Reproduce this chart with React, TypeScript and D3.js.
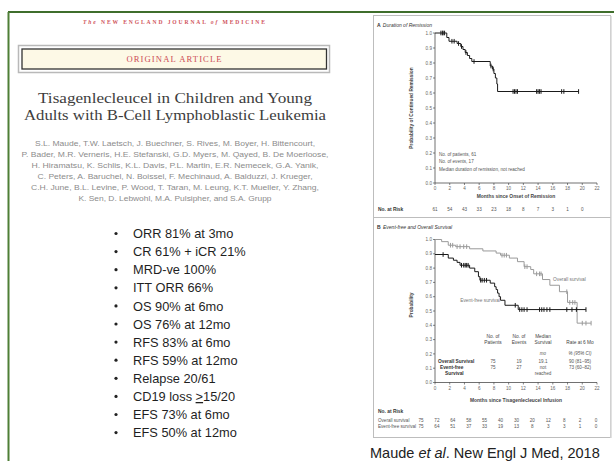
import React from "react";
import * as d3 from "d3";

// ---------- data ----------
const bullets = [
  "ORR 81% at 3mo",
  "CR 61% + iCR 21%",
  "MRD-ve 100%",
  "ITT ORR 66%",
  "OS 90% at 6mo",
  "OS 76% at 12mo",
  "RFS 83% at 6mo",
  "RFS 59% at 12mo",
  "Relapse 20/61",
  "CD19 loss \u226515/20",
  "EFS 73% at 6mo",
  "EFS 50% at 12mo",
];
const authors = [
  "S.L. Maude, T.W. Laetsch, J. Buechner, S. Rives, M. Boyer, H. Bittencourt,",
  "P. Bader, M.R. Verneris, H.E. Stefanski, G.D. Myers, M. Qayed, B. De Moerloose,",
  "H. Hiramatsu, K. Schlis, K.L. Davis, P.L. Martin, E.R. Nemecek, G.A. Yanik,",
  "C. Peters, A. Baruchel, N. Boissel, F. Mechinaud, A. Balduzzi, J. Krueger,",
  "C.H. June, B.L. Levine, P. Wood, T. Taran, M. Leung, K.T. Mueller, Y. Zhang,",
  "K. Sen, D. Lebwohl, M.A. Pulsipher, and S.A. Grupp",
];
const titleLines = [
  "Tisagenlecleucel in Children and Young",
  "Adults with B-Cell Lymphoblastic Leukemia",
];

const monthTicks = [0, 2, 4, 6, 8, 10, 12, 14, 16, 18, 20, 22];
const probTicks = [0, 0.1, 0.2, 0.3, 0.4, 0.5, 0.6, 0.7, 0.8, 0.9, 1.0];

// Panel A: duration of remission (time in months, survival after step)
const remissionSteps: [number, number][] = [
  [0, 1.0], [1.6, 0.97], [1.9, 0.945], [3.0, 0.93], [3.5, 0.91], [3.8, 0.89],
  [4.1, 0.87], [4.4, 0.85], [4.7, 0.83], [5.0, 0.81], [7.5, 0.78], [7.8, 0.76],
  [8.0, 0.73], [8.2, 0.7], [8.4, 0.66], [8.5, 0.61], [19.5, 0.61],
];
const remissionCensor = [0.8, 1.0, 1.1, 1.3, 2.3, 2.6, 3.2, 3.6, 4.2, 5.3, 7.6, 7.9,
  10.6, 10.8, 11.0, 11.2, 13.8, 14.0, 14.2, 14.4, 17.2, 17.5, 19.5];
const remissionAtRisk = [61, 54, 43, 33, 23, 18, 8, 7, 3, 1, 0];
const remissionInfo = [
  "No. of patients, 61",
  "No. of events, 17",
  "Median duration of remission, not reached",
];

// Panel B: overall survival and event-free survival
const osSteps: [number, number][] = [
  [0, 1.0], [0.9, 0.985], [1.8, 0.96], [2.8, 0.95], [4.7, 0.935], [6.5, 0.92],
  [8.3, 0.905], [8.9, 0.89], [10.1, 0.87], [11.2, 0.845], [12.1, 0.81], [13.0, 0.79],
  [13.4, 0.76], [14.6, 0.72], [15.6, 0.68], [16.9, 0.635], [18.0, 0.56],
  [19.3, 0.415], [21.2, 0.415],
];
const osCensor = [2.1, 2.4, 3.0, 3.4, 3.9, 4.3, 9.1, 9.4, 9.7, 12.2, 12.5, 13.8, 14.2,
  14.4, 17.9, 18.3, 18.7, 19.0, 20.0, 20.5, 21.2];
const efsSteps: [number, number][] = [
  [0, 0.895], [1.8, 0.87], [2.5, 0.855], [3.0, 0.84], [3.4, 0.82], [4.7, 0.8],
  [5.4, 0.775], [5.9, 0.74], [6.1, 0.715], [7.5, 0.695], [8.1, 0.67], [8.3, 0.65],
  [8.5, 0.625], [8.7, 0.6], [8.9, 0.575], [9.5, 0.54], [11.3, 0.51], [20.5, 0.51],
];
const efsCensor = [1.1, 3.6, 3.9, 4.1, 4.3, 4.5, 6.2, 6.4, 6.7, 7.0, 10.9, 11.5, 11.8,
  12.1, 12.5, 14.2, 14.5, 14.8, 15.2, 15.6, 17.9, 18.6, 19.2, 20.5];
const osAtRisk = [75, 72, 64, 58, 55, 40, 30, 20, 12, 8, 2, 0];
const efsAtRisk = [75, 64, 51, 37, 33, 19, 13, 8, 3, 3, 1, 0];

const tableHeaders = [
  ["No. of", "Patients"],
  ["No. of", "Events"],
  ["Median", "Survival"],
  ["", "Rate at 6 Mo"],
];
const tableUnits = ["", "", "mo", "% (95% CI)"];
const tableOS = ["75", "19", "19.1", "90 (81\u201395)"];
const tableEFS = ["75", "27", "not", "73 (60\u201382)"];

// ---------- styles ----------
const SANS = "'Liberation Sans', Arial, sans-serif";
const SERIF = "'Liberation Serif', 'Times New Roman', serif";
const tiny = 4.6;

function KMChart(props: {
  x: d3.ScaleLinear<number, number>;
  y: d3.ScaleLinear<number, number>;
}) {
  const { x, y } = props;
  const y0 = y(0);
  const x0 = x(0);
  return (
    <g>
      <line x1={x0} x2={x0} y1={y(1)} y2={y0} stroke="#333" strokeWidth={0.7} />
      <line x1={x0} x2={x(22)} y1={y0} y2={y0} stroke="#333" strokeWidth={0.7} />
      {probTicks.map((t) => (
        <g key={"y" + t}>
          <line x1={x0 - 2} x2={x0} y1={y(t)} y2={y(t)} stroke="#333" strokeWidth={0.6} />
          <text x={x0 - 3} y={y(t) + 1.6} fontSize={tiny} textAnchor="end" fill="#666" fontFamily={SANS}>
            {t.toFixed(1)}
          </text>
        </g>
      ))}
      {monthTicks.map((t) => (
        <g key={"x" + t}>
          <line x1={x(t)} x2={x(t)} y1={y0} y2={y0 + 2} stroke="#333" strokeWidth={0.6} />
          <text x={x(t)} y={y0 + 7} fontSize={tiny} textAnchor="middle" fill="#666" fontFamily={SANS}>
            {t}
          </text>
        </g>
      ))}
    </g>
  );
}

function Curve(props: {
  steps: [number, number][];
  censor: number[];
  x: d3.ScaleLinear<number, number>;
  y: d3.ScaleLinear<number, number>;
  color: string;
  width: number;
}) {
  const { steps, censor, x, y, color, width } = props;
  const line = d3
    .line<[number, number]>()
    .x((d) => x(d[0]))
    .y((d) => y(d[1]))
    .curve(d3.curveStepAfter);
  const survAt = (t: number) => {
    let s = steps[0][1];
    for (const st of steps) if (st[0] <= t) s = st[1];
    return s;
  };
  return (
    <g>
      <path d={line(steps) || ""} fill="none" stroke={color} strokeWidth={width} />
      {censor.map((t, i) => (
        <line key={i} x1={x(t)} x2={x(t)} y1={y(survAt(t)) - 2.3} y2={y(survAt(t)) + 2.3} stroke={color} strokeWidth={1} />
      ))}
    </g>
  );
}

export default function App() {
  const xA = d3.scaleLinear().domain([0, 22]).range([435, 597]);
  const yA = d3.scaleLinear().domain([0, 1]).range([183, 33]);
  const xB = d3.scaleLinear().domain([0, 22]).range([435, 597]);
  const yB = d3.scaleLinear().domain([0, 1]).range([382.5, 239.5]);
  const riskBx = d3.scalePoint<number>().domain(d3.range(osAtRisk.length)).range([421, 596]);
  const tableCols = [493, 519, 543, 580];

  const bulletY = d3.scaleLinear().domain([0, 1]).range([233.5, 251.6]);

  return (
    <svg
      width={614}
      height={461}
      style={{ position: "absolute", left: 0, top: 0, background: "#fff" }}
      fontFamily={SANS}
    >
      <rect x={0} y={0} width={614} height={461} fill="#fff" />
      {/* green frame */}
      <line x1={8} x2={614} y1={12} y2={12} stroke="#3f6e2c" strokeWidth={2} />
      <line x1={8.5} x2={8.5} y1={12} y2={461} stroke="#4f7f36" strokeWidth={2} />

      {/* NEJM header */}
      <text x={174} y={24} textAnchor="middle" fontSize={5.6} fontWeight="bold" fill="#d0545c" fontFamily={SERIF} textLength={182} lengthAdjust="spacing">
        <tspan fontStyle="italic">The</tspan> NEW ENGLAND JOURNAL <tspan fontStyle="italic">of</tspan> MEDICINE
      </text>
      <rect x={18.5} y={45.5} width={311} height={27} fill="none" stroke="#b9b9b9" strokeWidth={1.5} />
      <rect x={22} y={49} width={304.5} height={20} fill="#fdf9e6" stroke="#333" strokeWidth={1.3} />
      <text x={174} y={62} textAnchor="middle" fontSize={8.6} fill="#cc4b55" fontFamily={SERIF} textLength={95} lengthAdjust="spacing">
        ORIGINAL ARTICLE
      </text>

      {/* title */}
      {titleLines.map((t, i) => (
        <text key={t} x={175} y={103 + i * 17} textAnchor="middle" fontSize={15.5} fill="#3d3d3d" fontFamily={SERIF}
          textLength={i === 0 ? 274 : 302} lengthAdjust="spacingAndGlyphs">
          {t}
        </text>
      ))}
      {/* authors */}
      {authors.map((a, i) => {
        const widths = [280, 307, 287, 275, 288, 193];
        return (
          <text key={i} x={175} y={145.5 + i * 11} textAnchor="middle" fontSize={6.4} fill="#8c8c8c" fontFamily={SANS}
            textLength={widths[i]} lengthAdjust="spacingAndGlyphs">
            {a}
          </text>
        );
      })}

      {/* bullets */}
      {bullets.map((b, i) => {
        const cy = bulletY(i);
        const isCD = b.startsWith("CD19");
        return (
          <g key={b}>
            <circle cx={116} cy={cy} r={1.6} fill="#222" />
            <text x={133} y={cy + 4.6} fontSize={12.8} fill="#1f1f1f" fontFamily={SANS}>
              {isCD ? (
                <>
                  CD19 loss <tspan textDecoration="underline">&gt;</tspan>15/20
                </>
              ) : (
                b
              )}
            </text>
          </g>
        );
      })}

      {/* right figure frame */}
      <rect x={373.5} y={15.5} width={237} height={422} fill="#fff" stroke="#bdbdbd" strokeWidth={1} />
      <line x1={611} x2={611} y1={16} y2={438} stroke="#d8d8d8" strokeWidth={1.5} />
      <line x1={373.5} x2={610.5} y1={217.5} y2={217.5} stroke="#bdbdbd" strokeWidth={1} />

      {/* Panel A */}
      <text x={377} y={27} fontSize={5} fill="#333" fontWeight="bold">
        A <tspan fontWeight="normal" fontStyle="italic" dx={1}>Duration of Remission</tspan>
      </text>
      <KMChart x={xA} y={yA} />
      <Curve steps={remissionSteps} censor={remissionCensor} x={xA} y={yA} color="#1a1a1a" width={1} />
      <text transform={`translate(413,${(yA(0) + yA(1)) / 2}) rotate(-90)`} textAnchor="middle" fontSize={4.8} fontWeight="bold" fill="#444">
        Probability of Continued Remission
      </text>
      {remissionInfo.map((t, i) => (
        <text key={t} x={439} y={156 + i * 7.3} fontSize={4.6} fill="#555">
          {t}
        </text>
      ))}
      <text x={xA(11)} y={198} textAnchor="middle" fontSize={4.9} fontWeight="bold" fill="#444">
        Months since Onset of Remission
      </text>
      <text x={378} y={211} fontSize={4.9} fontWeight="bold" fill="#333">
        No. at Risk
      </text>
      {remissionAtRisk.map((v, i) => (
        <text key={i} x={xA(i * 2)} y={211} fontSize={tiny} textAnchor="middle" fill="#555">
          {v}
        </text>
      ))}

      {/* Panel B */}
      <text x={377} y={229} fontSize={5} fill="#333" fontWeight="bold">
        B <tspan fontWeight="normal" fontStyle="italic" dx={1}>Event-free and Overall Survival</tspan>
      </text>
      <KMChart x={xB} y={yB} />
      <Curve steps={osSteps} censor={osCensor} x={xB} y={yB} color="#9a9a9a" width={1} />
      <Curve steps={efsSteps} censor={efsCensor} x={xB} y={yB} color="#1a1a1a" width={1} />
      <text x={553} y={280.5} fontSize={4.8} fill="#777">Overall survival</text>
      <text x={500} y={302} fontSize={4.8} fill="#777" textAnchor="end">Event-free survival</text>
      <text transform={`translate(413,${(yB(0) + yB(1)) / 2 - 6}) rotate(-90)`} textAnchor="middle" fontSize={4.8} fontWeight="bold" fill="#444">
        Probability
      </text>

      {tableHeaders.map((h, i) => (
        <g key={i}>
          <text x={tableCols[i]} y={338} fontSize={4.8} textAnchor="middle" fill="#444">{h[0]}</text>
          <text x={tableCols[i]} y={344} fontSize={4.8} textAnchor="middle" fill="#444">{h[1]}</text>
          <text x={tableCols[i]} y={355} fontSize={4.5} textAnchor="middle" fontStyle="italic" fill="#555">{tableUnits[i]}</text>
          <text x={tableCols[i]} y={363} fontSize={4.6} textAnchor="middle" fill="#555">{tableOS[i]}</text>
          <text x={tableCols[i]} y={369} fontSize={4.6} textAnchor="middle" fill="#555">{tableEFS[i]}</text>
        </g>
      ))}
      <text x={tableCols[2]} y={374.5} fontSize={4.6} textAnchor="middle" fill="#555">reached</text>
      <text x={438} y={363} fontSize={4.8} fontWeight="bold" fill="#333">Overall Survival</text>
      <text x={440} y={369} fontSize={4.8} fontWeight="bold" fill="#333">Event-free</text>
      <text x={445} y={374.5} fontSize={4.8} fontWeight="bold" fill="#333">Survival</text>

      <text x={xB(11)} y={402} textAnchor="middle" fontSize={4.9} fontWeight="bold" fill="#444">
        Months since Tisagenlecleucel Infusion
      </text>
      <text x={378} y={413} fontSize={4.9} fontWeight="bold" fill="#333">No. at Risk</text>
      <text x={378} y={421.5} fontSize={4.6} fill="#555">Overall survival</text>
      <text x={378} y={427.5} fontSize={4.6} fill="#555">Event-free survival</text>
      {osAtRisk.map((v, i) => (
        <text key={"o" + i} x={riskBx(i)} y={421.5} fontSize={tiny} textAnchor="middle" fill="#555">{v}</text>
      ))}
      {efsAtRisk.map((v, i) => (
        <text key={"e" + i} x={riskBx(i)} y={427.5} fontSize={tiny} textAnchor="middle" fill="#555">{v}</text>
      ))}

      {/* citation */}
      <text x={370} y={458} fontSize={14.5} fill="#222" fontFamily={SANS}>
        Maude <tspan fontStyle="italic">et al</tspan>. New Engl J Med, 2018
      </text>
    </svg>
  );
}
